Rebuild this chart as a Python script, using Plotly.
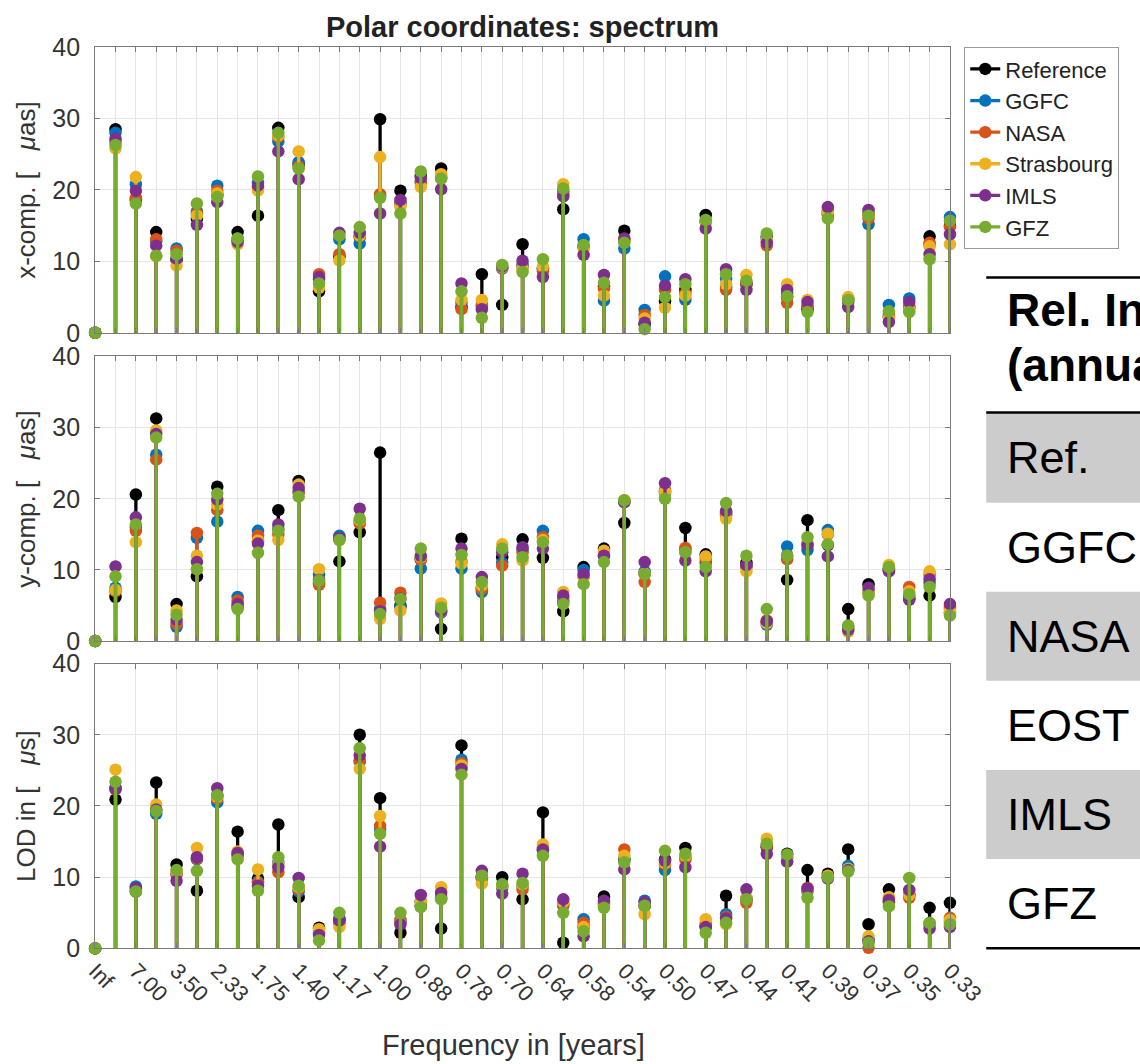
import plotly.graph_objects as go

# Positions below are given in the coordinates of the final 1140x1064 picture and
# converted to page pixels: the photographed page comes out scaled by about
# (0.96, 0.973) with a small offset, and the body keeps its default 8 px margin.
OFF = 8
SX, AX0 = 0.96, 1.4
SY, AY0 = 0.973, 6.1
FW, FH = 1180, 1080

series_names = ["Reference", "GGFC", "NASA", "Strasbourg", "IMLS", "GFZ"]
series_colors = ["#000000", "#0072BD", "#D95319", "#EDB120", "#7E2F8E", "#77AC30"]

period_labels = ["Inf", "7.00", "3.50", "2.33", "1.75", "1.40", "1.17", "1.00", "0.88",
                 "0.78", "0.70", "0.64", "0.58", "0.54", "0.50", "0.47", "0.44", "0.41",
                 "0.39", "0.37", "0.35", "0.33"]
freq_index = list(range(43))

# ---- x-component [uas]
xcomp_reference = [0, 28.5, 18.6, 14.1, 10.2, 16.0, 19.3, 14.1, 16.4, 28.7, 23.6, 5.8, 10.7, 13.4, 29.9, 19.9, 22.0, 23.0, 3.6, 8.2, 3.9, 12.4, 9.0, 17.3, 12.0, 6.5, 14.3, 1.2, 4.4, 6.0, 16.5, 6.4, 6.8, 13.4, 5.0, 3.3, 16.6, 4.8, 16.7, 2.2, 3.5, 13.5, 15.0]
xcomp_ggfc = [0, 28.0, 20.8, 12.8, 11.8, 17.0, 20.6, 13.2, 21.0, 26.8, 23.9, 7.5, 13.1, 12.5, 19.2, 18.2, 21.2, 21.8, 4.2, 3.8, 9.0, 9.5, 9.0, 19.8, 13.1, 4.5, 11.8, 3.2, 7.9, 4.6, 15.5, 7.6, 7.0, 13.2, 5.5, 3.6, 16.9, 4.3, 15.2, 3.9, 4.8, 12.3, 16.2]
xcomp_nasa = [0, 26.8, 18.9, 13.1, 11.5, 16.7, 19.9, 12.9, 20.3, 27.4, 23.3, 8.2, 11.0, 13.5, 19.4, 18.0, 21.0, 21.6, 3.3, 3.9, 9.1, 9.2, 8.6, 19.4, 12.0, 6.2, 13.0, 2.5, 6.0, 5.5, 15.6, 6.0, 6.9, 12.2, 4.2, 3.8, 17.1, 4.5, 16.0, 2.5, 3.8, 12.6, 14.8]
xcomp_strasbourg = [0, 25.8, 21.8, 10.7, 9.4, 16.4, 19.5, 12.4, 19.9, 27.6, 25.4, 6.3, 10.1, 13.6, 24.6, 17.7, 20.4, 22.2, 4.6, 4.6, 9.2, 8.9, 9.3, 20.8, 11.8, 5.2, 12.8, 2.0, 3.5, 5.2, 15.6, 6.8, 8.1, 13.0, 6.8, 4.6, 16.8, 5.0, 16.6, 2.0, 3.2, 12.1, 12.4]
xcomp_imls = [0, 27.2, 19.9, 12.2, 10.4, 15.1, 18.3, 12.7, 20.6, 25.4, 21.5, 7.8, 14.0, 14.0, 16.7, 18.6, 21.7, 20.1, 6.9, 3.3, 9.3, 10.1, 7.8, 19.1, 10.9, 8.1, 13.2, 1.4, 6.6, 7.5, 14.6, 8.9, 6.0, 12.6, 6.0, 4.3, 17.6, 3.6, 17.2, 1.5, 4.3, 11.0, 13.8]
xcomp_gfz = [0, 26.3, 18.1, 10.8, 11.0, 18.1, 19.0, 13.2, 21.9, 28.0, 23.0, 6.9, 13.6, 14.8, 18.9, 16.7, 22.6, 21.6, 5.8, 2.1, 9.5, 8.5, 10.3, 20.2, 12.3, 7.0, 12.6, 0.5, 5.0, 6.8, 15.8, 8.2, 7.3, 13.9, 5.1, 2.9, 16.0, 4.6, 16.4, 3.0, 2.9, 10.3, 15.7]

# ---- y-component [uas]
ycomp_reference = [0, 6.2, 20.6, 31.3, 5.2, 9.1, 21.7, 4.8, 14.0, 18.4, 22.5, 8.2, 11.2, 15.3, 26.5, 5.0, 11.5, 1.7, 14.4, 7.5, 11.8, 14.3, 11.7, 4.2, 10.4, 13.0, 16.6, 9.5, 21.0, 15.9, 12.2, 18.0, 11.0, 2.6, 8.6, 17.0, 13.5, 4.5, 8.0, 10.0, 6.0, 6.4, 4.0]
ycomp_ggfc = [0, 7.5, 16.0, 26.2, 2.0, 14.5, 16.8, 6.2, 15.5, 15.8, 21.0, 9.3, 14.8, 16.8, 4.5, 4.8, 10.2, 4.0, 10.2, 6.9, 11.0, 12.8, 15.5, 5.5, 10.0, 12.0, 19.6, 9.8, 20.8, 12.8, 11.0, 17.8, 10.5, 2.3, 13.3, 12.8, 15.6, 2.0, 7.0, 10.2, 6.2, 8.2, 4.5]
ycomp_nasa = [0, 7.0, 15.5, 25.5, 2.4, 15.2, 18.4, 5.7, 14.8, 15.0, 20.9, 7.9, 14.3, 16.5, 5.4, 6.8, 11.4, 4.2, 11.2, 7.3, 10.6, 12.5, 14.6, 6.0, 9.0, 12.3, 19.7, 8.3, 21.2, 13.1, 11.5, 17.6, 10.5, 2.9, 11.5, 13.5, 15.0, 1.8, 6.8, 10.0, 7.6, 9.3, 4.8]
ycomp_strasbourg = [0, 7.2, 13.9, 29.6, 4.3, 12.0, 19.2, 5.0, 14.1, 14.2, 22.0, 10.1, 14.2, 17.0, 3.1, 4.3, 11.8, 5.3, 10.9, 7.8, 13.6, 11.3, 14.2, 6.9, 9.0, 12.7, 19.8, 9.5, 21.0, 12.4, 11.9, 17.2, 9.8, 2.5, 12.0, 13.8, 15.1, 1.3, 7.0, 10.7, 7.0, 9.8, 4.2]
ycomp_imls = [0, 10.5, 17.4, 29.1, 3.0, 11.1, 19.9, 5.2, 13.7, 16.4, 21.5, 8.6, 14.5, 18.6, 4.2, 6.0, 12.0, 4.3, 13.0, 9.0, 12.5, 13.2, 13.0, 6.4, 9.4, 12.0, 19.5, 11.1, 22.2, 11.3, 9.8, 18.3, 10.7, 2.8, 12.0, 13.5, 11.9, 1.6, 7.5, 9.8, 5.8, 8.7, 5.2]
ycomp_gfz = [0, 9.1, 16.4, 28.6, 3.7, 10.1, 20.7, 4.5, 12.4, 15.5, 20.3, 8.5, 14.2, 17.2, 3.8, 5.9, 13.0, 4.7, 12.1, 8.3, 13.0, 11.8, 13.9, 5.2, 8.0, 11.1, 19.8, 9.4, 20.0, 12.5, 10.4, 19.4, 12.0, 4.5, 12.0, 14.6, 13.6, 2.2, 6.4, 10.4, 6.6, 7.6, 3.6]

# ---- LOD [us]
lod_reference = [0, 20.9, 8.0, 23.3, 11.8, 8.1, 21.5, 16.4, 9.8, 17.4, 7.2, 2.9, 4.0, 30.0, 21.1, 2.2, 6.0, 2.8, 28.5, 10.0, 10.0, 6.9, 19.1, 0.8, 3.0, 7.3, 12.5, 6.0, 12.5, 14.1, 3.0, 7.4, 7.0, 14.2, 13.3, 11.0, 10.5, 13.9, 3.4, 8.3, 7.5, 5.7, 6.4]
lod_ggfc = [0, 22.6, 8.7, 18.9, 10.5, 12.5, 20.5, 13.0, 9.4, 12.0, 8.0, 2.2, 4.2, 26.2, 16.8, 3.8, 6.6, 7.0, 26.5, 10.0, 8.5, 8.8, 13.8, 6.0, 4.1, 6.3, 12.6, 6.7, 11.0, 12.8, 3.2, 4.8, 6.8, 14.5, 12.7, 8.0, 10.0, 11.6, 1.2, 6.5, 7.5, 3.5, 3.8]
lod_nasa = [0, 22.3, 8.2, 19.5, 10.4, 12.6, 21.0, 13.2, 9.2, 10.7, 8.3, 2.5, 3.5, 26.4, 17.2, 4.0, 6.5, 7.2, 26.0, 9.7, 8.8, 8.3, 14.1, 6.2, 3.6, 6.2, 13.9, 6.0, 11.8, 12.5, 3.5, 4.4, 6.4, 14.3, 12.2, 8.5, 10.0, 11.0, 0.1, 6.5, 7.1, 3.4, 4.3]
lod_strasbourg = [0, 25.1, 8.1, 20.2, 10.8, 14.1, 21.3, 13.6, 11.1, 11.8, 8.6, 2.7, 3.0, 25.2, 18.6, 3.5, 6.6, 8.6, 25.7, 9.1, 8.8, 9.0, 14.6, 6.5, 3.0, 6.4, 13.0, 4.8, 12.0, 13.0, 4.1, 3.4, 7.2, 15.4, 12.8, 8.2, 10.2, 11.2, 1.7, 7.2, 7.5, 3.5, 4.0]
lod_imls = [0, 22.4, 8.5, 19.5, 9.5, 12.8, 22.5, 13.4, 8.8, 11.4, 9.9, 1.9, 3.9, 27.1, 14.3, 3.4, 7.5, 7.8, 25.2, 10.9, 7.7, 10.5, 13.9, 6.9, 1.7, 6.7, 11.1, 6.5, 12.3, 11.4, 3.0, 4.2, 8.3, 13.3, 12.2, 8.4, 9.8, 11.0, 1.0, 6.8, 8.2, 2.8, 3.0]
lod_gfz = [0, 23.4, 8.0, 19.3, 11.0, 10.9, 21.5, 12.5, 8.1, 12.8, 8.8, 1.1, 5.0, 28.1, 16.1, 5.0, 5.8, 6.9, 24.4, 10.2, 9.0, 9.2, 13.0, 5.0, 2.4, 5.7, 12.1, 6.0, 13.7, 13.3, 2.2, 3.6, 6.9, 14.7, 13.2, 7.1, 10.0, 10.8, 0.8, 5.9, 9.9, 3.6, 3.4]

# inset table (cut off by the right edge of the reference image)
table_header = ["Rel. In", "(annua"]
table_rows = ["Ref.", "GGFC", "NASA", "EOST", "IMLS", "GFZ"]

panels = [
    ([xcomp_reference, xcomp_ggfc, xcomp_nasa, xcomp_strasbourg, xcomp_imls, xcomp_gfz], "x", "y"),
    ([ycomp_reference, ycomp_ggfc, ycomp_nasa, ycomp_strasbourg, ycomp_imls, ycomp_gfz], "x2", "y2"),
    ([lod_reference, lod_ggfc, lod_nasa, lod_strasbourg, lod_imls, lod_gfz], "x3", "y3"),
]

FONT = "Liberation Sans, Arial, Helvetica, sans-serif"
TXT = "#333333"
AXC = "#7a7a7a"
GRID = "#e6e6e6"

fig = go.Figure()
for p, (values_list, xa, ya) in enumerate(panels):
    for name, color, vals in zip(series_names, series_colors, values_list):
        xs, ys, mc = [], [], []
        for i, v in zip(freq_index, vals):
            xs += [i, i, None]
            ys += [v, 0, None]
            mc += [color, "rgba(0,0,0,0)", color]
        fig.add_trace(go.Scatter(
            x=xs, y=ys, xaxis=xa, yaxis=ya, mode="lines+markers",
            name=name, legendgroup=name, showlegend=(p == 0),
            line=dict(color=color, width=3.3),
            marker=dict(color=mc, size=12.5, line=dict(width=0)),
            cliponaxis=False, hoverinfo="skip",
        ))


def px(x):
    page_x = (x - AX0) / SX
    return (page_x - OFF) / FW


def py(y):
    page_y = (y - AY0) / SY
    return 1 - (page_y - OFF) / FH


xdom = [px(93.3), px(948.7)]
ydoms = [[py(332.3), py(47.0)], [py(640.3), py(356.0)], [py(947.3), py(662.7)]]

common_x = dict(range=[0, 42], domain=xdom, showline=True, linecolor=AXC, linewidth=1,
                mirror="ticks", ticks="inside", ticklen=5, tickcolor=AXC,
                showgrid=True, gridcolor=GRID, gridwidth=1, zeroline=False)
common_y = dict(range=[0, 40], tickvals=[0, 10, 20, 30, 40], showline=True, linecolor=AXC,
                linewidth=1, mirror="ticks", ticks="inside", ticklen=5, tickcolor=AXC,
                showgrid=True, gridcolor=GRID, gridwidth=1, zeroline=False,
                tickfont=dict(family=FONT, size=25, color=TXT), ticklabelstandoff=9)

fig.update_layout(
    xaxis=dict(common_x, anchor="y", tickvals=freq_index, showticklabels=False),
    xaxis2=dict(common_x, anchor="y2", tickvals=freq_index, showticklabels=False),
    xaxis3=dict(common_x, anchor="y3", tickvals=freq_index[::2], ticktext=period_labels,
                tickangle=45, tickfont=dict(family=FONT, size=22, color=TXT)),
    yaxis=dict(common_y, anchor="x", domain=ydoms[0]),
    yaxis2=dict(common_y, anchor="x2", domain=ydoms[1]),
    yaxis3=dict(common_y, anchor="x3", domain=ydoms[2]),
)

ytitles = ["x-comp. [   <i>μ</i>as]", "y-comp. [   <i>μ</i>as]", "LOD in [   <i>μ</i>s]"]
ann = []
for t, d in zip(ytitles, ydoms):
    ann.append(dict(text=t, x=px(24), y=(d[0] + d[1]) / 2, xref="paper", yref="paper",
                    textangle=-90, showarrow=False, xanchor="center", yanchor="middle",
                    font=dict(family=FONT, size=26, color=TXT)))
ann.append(dict(text="Frequency in [years]", x=px(512), y=py(1044), xref="paper", yref="paper",
                showarrow=False, xanchor="center", yanchor="middle",
                font=dict(family=FONT, size=29, color=TXT)))

# table inset
shapes = []
row_tops = [412, 502, 591, 680, 769, 858]
row_bots = [502, 591, 680, 769, 858, 947]
for k, (t0, t1) in enumerate(zip(row_tops, row_bots)):
    if k % 2 == 0:
        shapes.append(dict(type="rect", xref="paper", yref="paper", x0=px(985), x1=1.0,
                           y0=py(t1), y1=py(t0), fillcolor="#cccccc", line=dict(width=0),
                           layer="below"))
for yl in [277, 412, 947]:
    shapes.append(dict(type="line", xref="paper", yref="paper", x0=px(985), x1=1.0,
                       y0=py(yl), y1=py(yl), line=dict(color="black", width=2.5)))
for txt, yc in zip(table_header, [310, 364]):
    ann.append(dict(text="<b>" + txt + "</b>", x=px(1004), y=py(yc), xref="paper", yref="paper",
                    showarrow=False, xanchor="left", yanchor="middle",
                    font=dict(family="Liberation Sans, Arial", size=46, color="black")))
for txt, t0, t1 in zip(table_rows, row_tops, row_bots):
    yc = (t0 + t1) / 2
    ann.append(dict(text=txt, x=px(1004), y=py(yc), xref="paper", yref="paper",
                    showarrow=False, xanchor="left", yanchor="middle",
                    font=dict(family="Liberation Sans, Arial", size=45, color="black")))

fig.update_layout(
    width=FW, height=FH, margin=dict(l=0, r=0, t=0, b=0),
    paper_bgcolor="white", plot_bgcolor="white",
    title=dict(text="<b>Polar coordinates: spectrum</b>", x=px(521), y=py(27),
               xanchor="center", yanchor="middle", xref="paper", yref="paper",
               font=dict(family=FONT, size=29, color="#222222")),
    legend=dict(x=px(963), y=py(47), xanchor="left", yanchor="top",
                bgcolor="white", bordercolor="#9a9a9a", borderwidth=1,
                font=dict(family=FONT, size=22, color="#222222"),
                tracegroupgap=0, itemwidth=30),
    annotations=ann, shapes=shapes, showlegend=True,
)

fig.write_html("out.html", post_script="document.getElementById('{plot_id}').style.overflow='hidden';")
